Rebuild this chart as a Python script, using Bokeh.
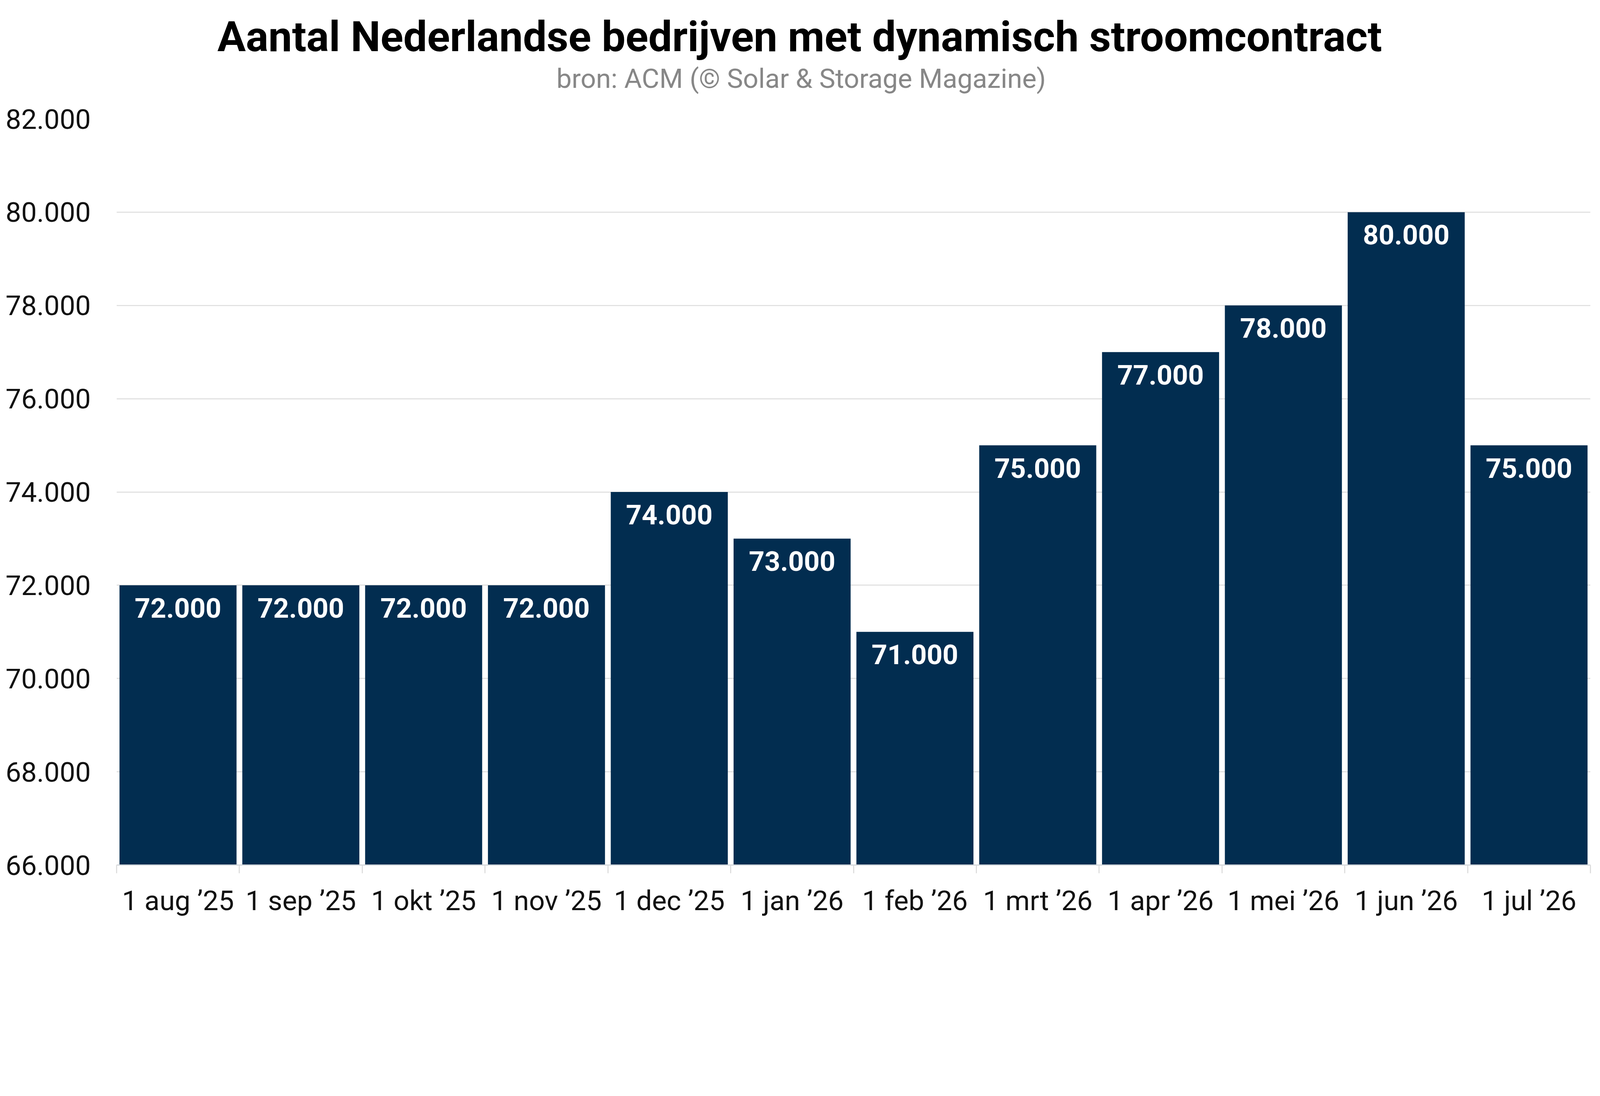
from bokeh.plotting import figure
from bokeh.models import Range1d, FixedTicker, CustomJSTickFormatter, Title, ColumnDataSource
from bokeh.core.properties import value
from bokeh.embed import file_html
from bokeh.resources import INLINE

# ---- data ----
categories = ["1 aug ’25", "1 sep ’25", "1 okt ’25", "1 nov ’25", "1 dec ’25", "1 jan ’26",
              "1 feb ’26", "1 mrt ’26", "1 apr ’26", "1 mei ’26", "1 jun ’26", "1 jul ’26"]
values = [72000, 72000, 72000, 72000, 74000, 73000, 71000, 75000, 77000, 78000, 80000, 75000]
y_ticks = [66000, 68000, 70000, 72000, 74000, 76000, 78000, 80000, 82000]
y_min, y_max = 66000, 82000
title_text = "Aantal Nederlandse bedrijven met dynamisch stroomcontract"
subtitle_text = "bron: ACM (© Solar & Storage Magazine)"

FONT = "Roboto"
BAR = "#022d50"
K = 0.8457  # screen pixels -> css pixels


def s(v):
    return int(round(v * K))


def px(v):
    return f"{v * K:.1f}px"


idx = list(range(len(categories)))
labels = [f"{v:,}".replace(",", ".") for v in values]
src = ColumnDataSource(dict(x=idx, top=values, label=labels))

p = figure(width=s(4857), height=s(2791), output_backend="svg", toolbar_location=None,
           x_range=Range1d(-0.5, len(categories) - 0.5), y_range=Range1d(y_min, y_max),
           min_border_left=s(352), min_border_right=s(44), min_border_top=s(360),
           min_border_bottom=s(171))
p.outline_line_color = None
p.background_fill_color = "white"
p.border_fill_color = "white"

p.vbar(x="x", top="top", bottom=y_min, width=0.953, source=src,
       fill_color=BAR, line_color=None)
p.text(x="x", y="top", text="label", source=src, text_color="white",
       text_font=value(FONT), text_font_style="bold", text_font_size=px(83),
       text_align="center", text_baseline="top", y_offset=s(39))

# y axis
ya = p.yaxis[0]
ya.ticker = FixedTicker(ticks=y_ticks)
ya.formatter = CustomJSTickFormatter(
    code="return Math.round(tick).toString().replace(/\\B(?=(\\d{3})+(?!\\d))/g, '.');")
ya.axis_line_color = None
ya.major_tick_line_color = None
ya.minor_tick_line_color = None
ya.major_tick_out = 0
ya.major_label_standoff = s(78)
ya.major_label_text_font = FONT
ya.major_label_text_font_size = px(84)
ya.major_label_text_color = "#111111"

# x axis
xa = p.xaxis[0]
xa.ticker = FixedTicker(ticks=idx, minor_ticks=[i - 0.5 for i in range(len(categories) + 1)])
xa.major_label_overrides = {i: c for i, c in zip(idx, categories)}
xa.major_tick_out = 0
xa.major_tick_in = 0
xa.major_tick_line_color = None
xa.minor_tick_out = s(25)
xa.minor_tick_in = 0
xa.minor_tick_line_color = "#d9d9d9"
xa.minor_tick_line_width = 2.5
xa.axis_line_color = "#d4d8dc"
xa.axis_line_width = 3
xa.major_label_standoff = s(33)
xa.major_label_text_font = FONT
xa.major_label_text_font_size = px(84)
xa.major_label_text_color = "#111111"

p.xgrid.grid_line_color = None
p.ygrid.grid_line_color = "#dddddd"
p.ygrid.grid_line_width = 2.5
p.ygrid.ticker = FixedTicker(ticks=y_ticks)

# titles (left-aligned with offsets so both sit centred on the page)
sub = Title(text=subtitle_text, align="left", text_font=FONT, text_font_size=px(82),
            text_font_style="normal", text_color="#878787", offset=s(1331), standoff=s(148))
p.add_layout(sub, "above")
ttl = Title(text=title_text, align="left", text_font=FONT, text_font_size=px(128),
            text_font_style="bold", text_color="#000000", offset=s(305), standoff=s(-142))
p.add_layout(ttl, "above")

open("out.html", "w").write(file_html(p, INLINE))
